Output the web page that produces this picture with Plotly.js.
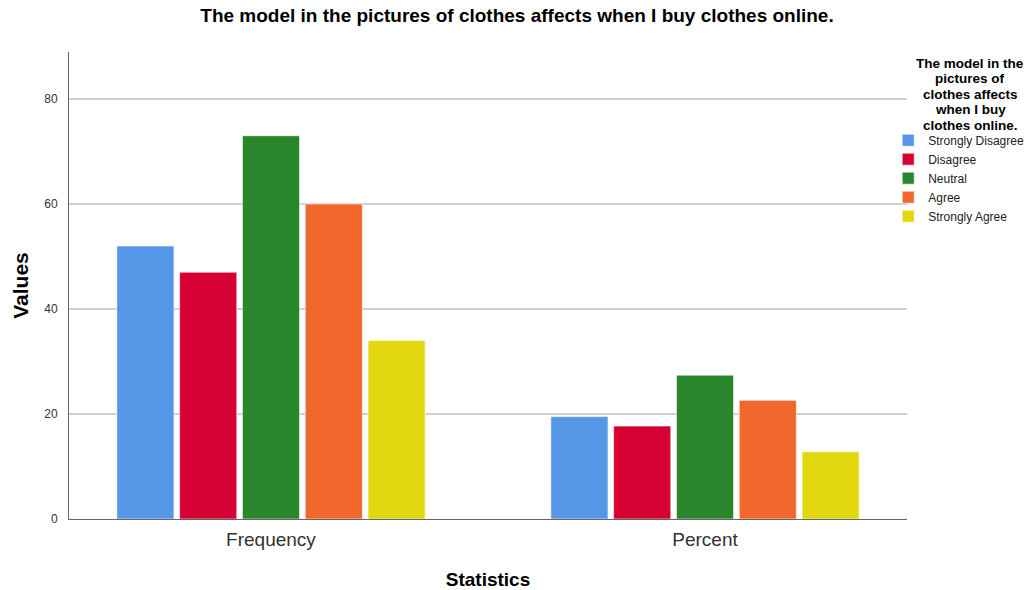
<!DOCTYPE html>
<html>
<head>
<meta charset="utf-8">
<script src="https://cdn.plot.ly/plotly-3.0.1.min.js"></script>
<style>
  html, body { margin: 0; padding: 0; background: #ffffff; }
  #chart { width: 1034px; height: 590px; }
</style>
</head>
<body>
<div id="chart"></div>
<script>
// Survey responses: counts and share of respondents
const statistics = ["Frequency", "Percent"];
const responses = ["Strongly Disagree", "Disagree", "Neutral", "Agree", "Strongly Agree"];
const frequency = [52, 47, 73, 60, 34];
const percent = [19.5, 17.7, 27.4, 22.6, 12.8];
const colors = ["#5596e6", "#d60032", "#2a862a", "#f2682c", "#e3d80f"];
const questionText = "The model in the pictures of clothes affects when I buy clothes online.";
const legendHeading = ["The model in the", "pictures of", "clothes affects", "when I buy", "clothes online."];

const traces = responses.map((name, i) => ({
  type: "bar",
  name: name,
  x: statistics,
  y: [frequency[i], percent[i]],
  marker: {
    color: colors[i],
    line: { color: "rgba(255,255,255,0.6)", width: 1 }
  },
  hoverinfo: "x+y+name"
}));

// Legend heading: one centred line per annotation so the lines sit close together
const headingTop = 0.9764;   // paper y of the first line's centre
const headingStep = 0.0332;  // paper distance between lines
const headingAnnotations = legendHeading.map((line, i) => ({
  xref: "paper",
  yref: "paper",
  x: 1.0752,
  y: headingTop - i * headingStep,
  xanchor: "center",
  yanchor: "middle",
  align: "center",
  showarrow: false,
  text: "<b>" + line + "</b>",
  font: { size: 13.5, color: "#000000", family: "Liberation Sans, Arial, sans-serif" }
}));

const layout = {
  width: 1034,
  height: 590,
  margin: { l: 69, r: 127, t: 52, b: 71, autoexpand: false },
  paper_bgcolor: "#ffffff",
  plot_bgcolor: "#ffffff",
  font: { family: "Liberation Sans, Arial, sans-serif", color: "#222222" },
  title: {
    text: "<b>" + questionText + "</b>",
    font: { size: 19, color: "#000000" },
    x: 0.5,
    xanchor: "center",
    y: 0.986,
    yanchor: "top"
  },
  barmode: "group",
  bargap: 0.2765,
  bargroupgap: 0.09,
  xaxis: {
    range: [-0.4654, 1.4654],
    showline: true,
    linecolor: "#666666",
    linewidth: 1,
    ticks: "",
    ticklabelstandoff: 3,
    tickfont: { size: 19, color: "#333333" },
    title: {
      text: "<b>Statistics</b>",
      font: { size: 19, color: "#000000" },
      standoff: 24
    }
  },
  yaxis: {
    range: [0, 88.95],
    tickvals: [0, 20, 40, 60, 80],
    showline: true,
    linecolor: "#666666",
    linewidth: 1,
    showgrid: true,
    gridcolor: "#d0d0d0",
    gridwidth: 1.5,
    zeroline: false,
    ticks: "",
    ticklabelstandoff: 8,
    tickfont: { size: 12, color: "#333333" },
    title: {
      text: "<b>Values</b>",
      font: { size: 21, color: "#000000" },
      standoff: 9
    }
  },
  legend: {
    xref: "container",
    yref: "container",
    x: 0.859,
    xanchor: "left",
    y: 0.787,
    yanchor: "top",
    bgcolor: "rgba(0,0,0,0)",
    font: { size: 12, color: "#222222" },
    itemwidth: 30,
    tracegroupgap: 0
  },
  annotations: headingAnnotations,
  showlegend: true
};

Plotly.newPlot("chart", traces, layout, { displayModeBar: false, staticPlot: true });
</script>
</body>
</html>
